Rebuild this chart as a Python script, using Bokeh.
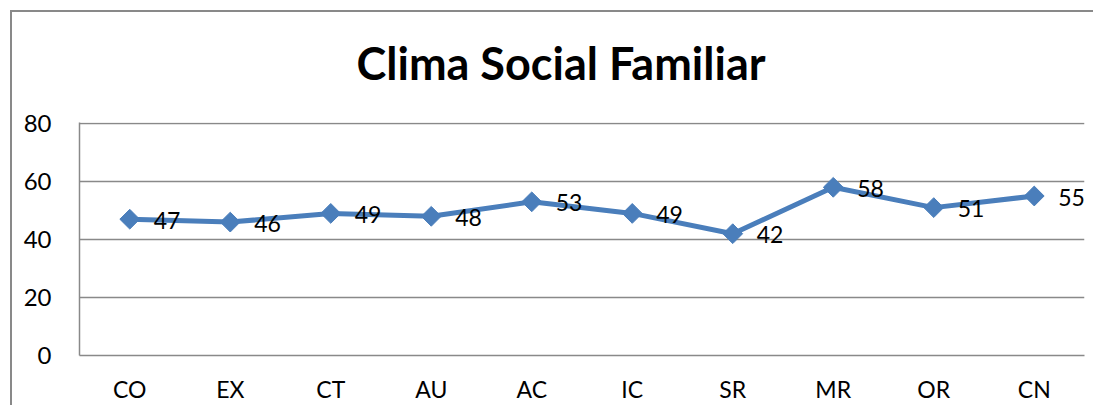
from bokeh.plotting import figure
from bokeh.models import ColumnDataSource, Range1d, Title, FixedTicker
from bokeh.core.properties import value
from bokeh.embed import file_html
from bokeh.resources import INLINE
import numpy as np

categories = ["CO", "EX", "CT", "AU", "AC", "IC", "SR", "MR", "OR", "CN"]
values = [47, 46, 49, 48, 53, 49, 42, 58, 51, 55]
y_ticks = [0, 20, 40, 60, 80]
title_text = "Clima Social Familiar"

FONT = "Lato"
BLUE = "#4A7EBB"
GRAY = "#898989"

src = ColumnDataSource(dict(x=categories, y=values, lbl=[str(v) for v in values]))

p = figure(frame_width=1005, frame_height=233, x_range=categories, y_range=Range1d(0, 80.35),
           output_backend="svg", toolbar_location=None,
           min_border_left=79, min_border_right=9, min_border_top=122, min_border_bottom=40)

# outer chart border (top and left), drawn as CSS background behind a transparent border area
grad = f"linear-gradient({GRAY}, {GRAY})"
p.styles = {
    "background": f"{grad} 10px 10px / 100% 2px no-repeat, {grad} 10px 10px / 2px 100% no-repeat, white",
}

t = Title(text=title_text, text_font=FONT, text_font_size="45px", text_font_style="bold",
          text_color="black", align="left", offset=277, standoff=66)
p.add_layout(t, "above")

p.line("x", "y", source=src, line_color=BLUE, line_width=5)
p.scatter("x", "y", source=src, marker="square", size=14, angle=np.pi / 4,
          fill_color=BLUE, line_color=BLUE)
p.text("x", "y", text="lbl", source=src, x_offset=24, y_offset=1,
       text_font=value(FONT), text_font_size="23px", text_baseline="middle",
       text_align="left", text_color="black")

p.outline_line_color = None
p.background_fill_color = "white"
p.border_fill_color = None

p.xgrid.grid_line_color = None
p.ygrid.grid_line_color = GRAY
p.ygrid.grid_line_width = 1.5
p.ygrid.ticker = FixedTicker(ticks=y_ticks)

p.yaxis.ticker = FixedTicker(ticks=y_ticks)
p.yaxis.axis_line_color = GRAY
p.yaxis.axis_line_width = 1.5
p.yaxis.major_tick_line_color = None
p.yaxis.minor_tick_line_color = None
p.yaxis.major_label_text_font = FONT
p.yaxis.major_label_text_font_size = "24px"
p.yaxis.major_label_text_color = "black"
p.yaxis.major_label_standoff = 22

p.xaxis.axis_line_color = GRAY
p.xaxis.axis_line_width = 1.5
p.xaxis.major_tick_line_color = None
p.xaxis.major_label_text_font = FONT
p.xaxis.major_label_text_font_size = "23px"
p.xaxis.major_label_text_color = "black"
p.xaxis.major_label_standoff = 13

open("out.html", "w").write(file_html(p, INLINE))
